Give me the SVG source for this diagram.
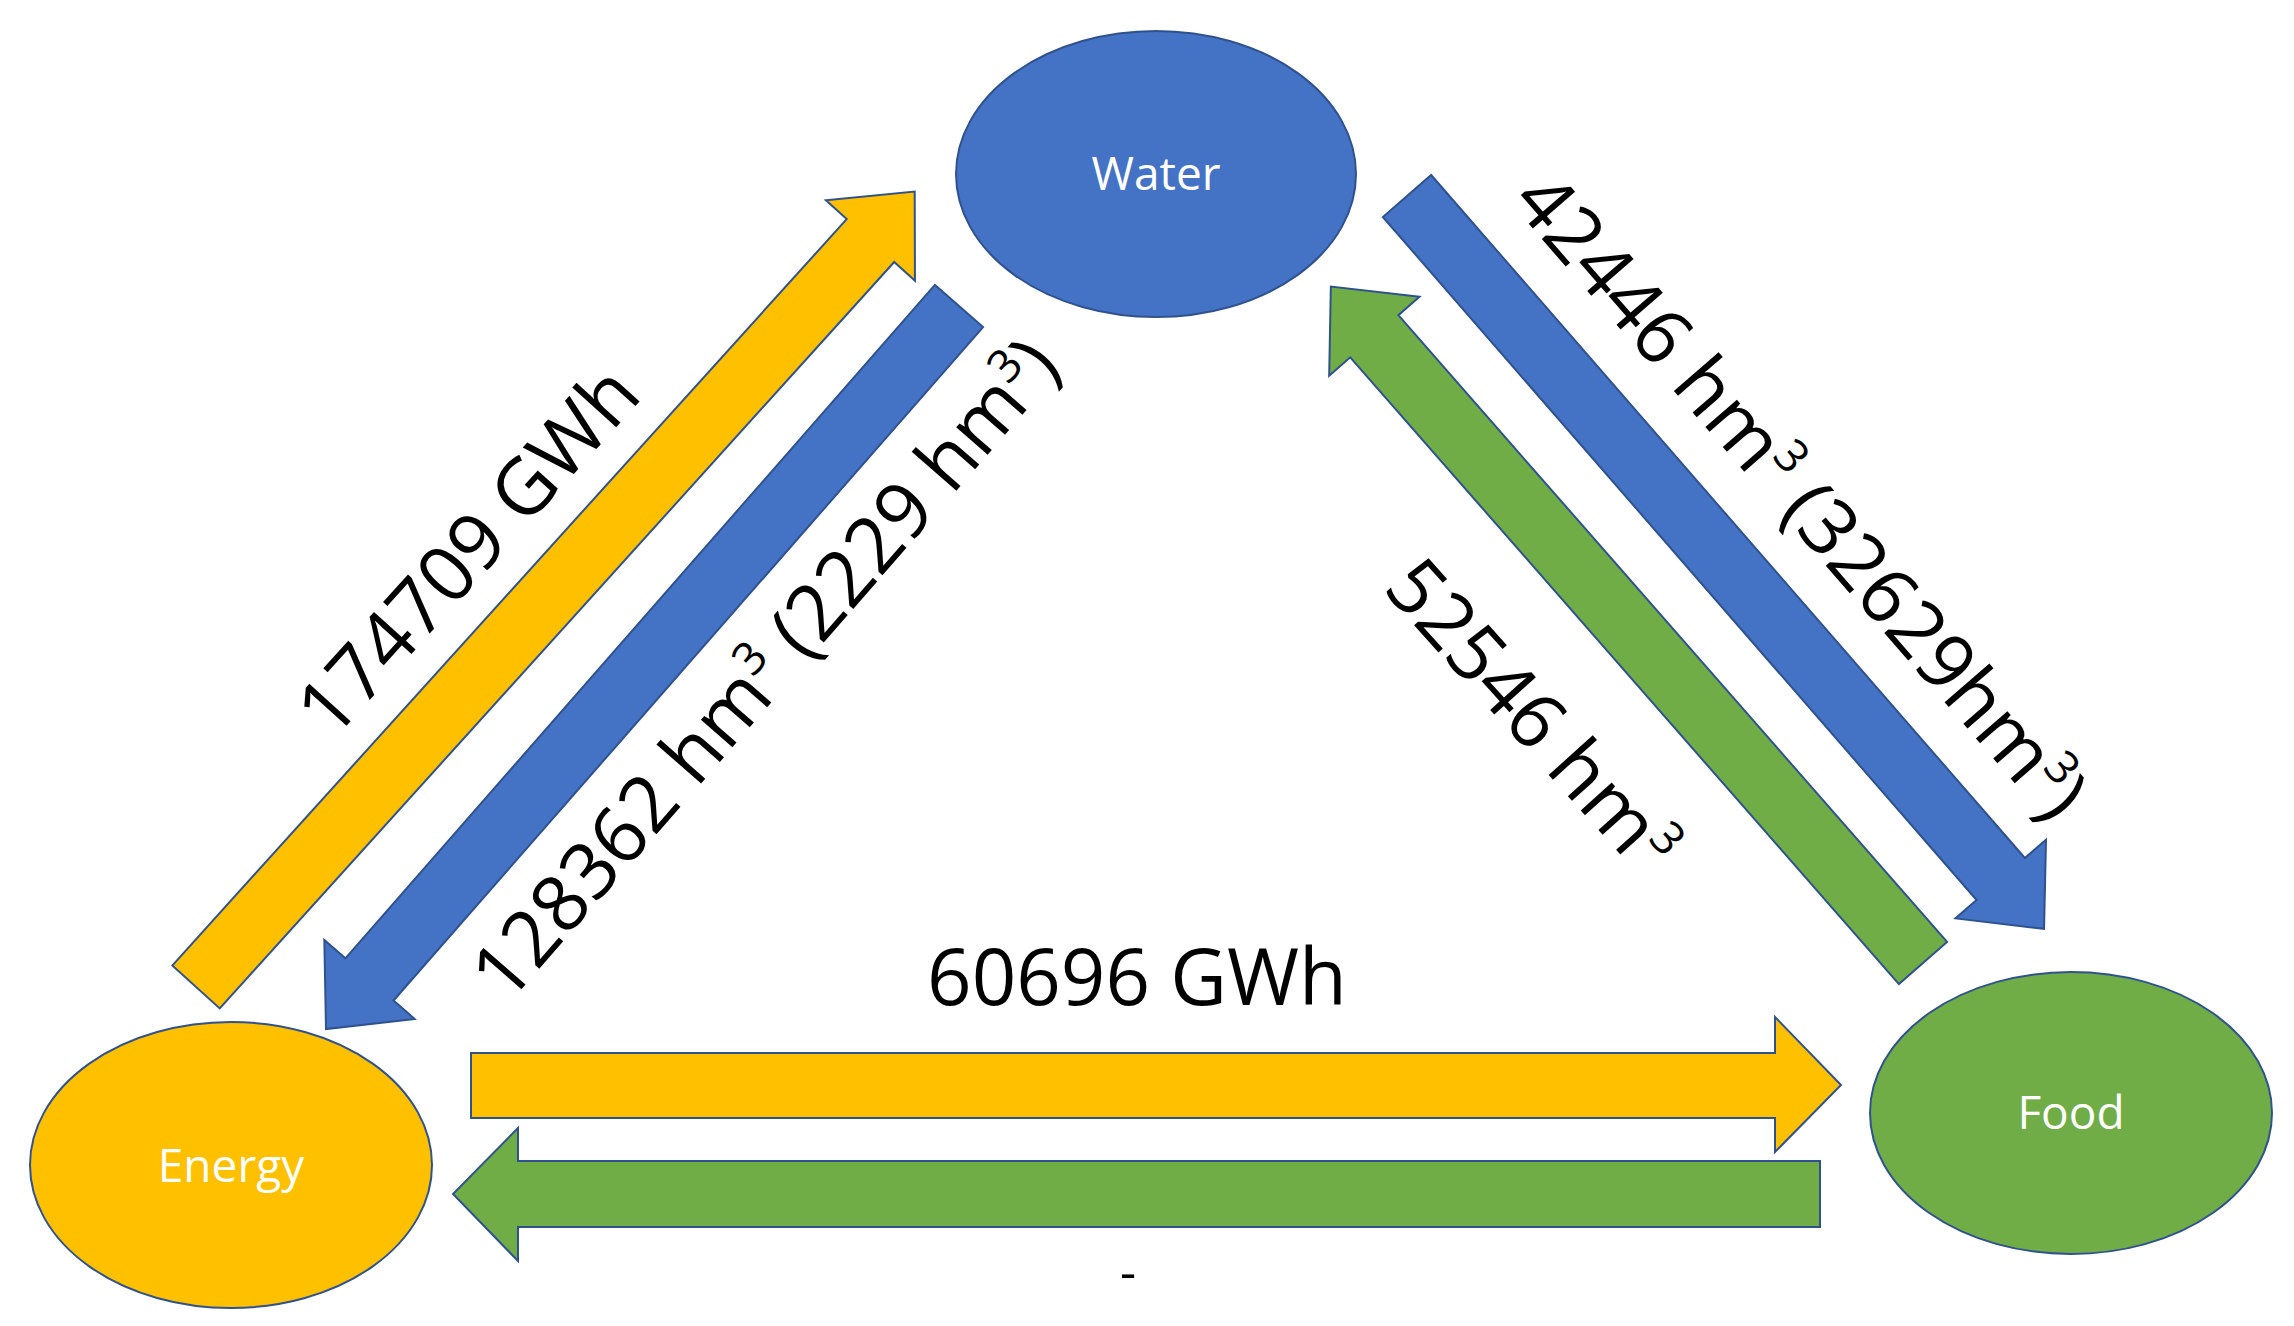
<svg xmlns="http://www.w3.org/2000/svg" width="2294" height="1326" viewBox="0 0 2294 1326">
<style>
.y{fill:#FFC000;stroke:#2F528F;stroke-width:2}
.b{fill:#4472C4;stroke:#2F528F;stroke-width:2}
.g{fill:#70AD47;stroke:#2F528F;stroke-width:2}
.nl{font-family:"Open Sans","Liberation Sans",sans-serif;font-size:46px;fill:#fff;text-anchor:middle}
.lb{font-family:"Open Sans","Liberation Sans",sans-serif;font-size:78px;fill:#000;text-anchor:middle}
.sup{font-size:46px}
</style>
<rect width="2294" height="1326" fill="#fff"/>
<g id="connectors">
<path class="y" transform="translate(196,987) rotate(-47.9)" d="M0,-32 L1006,-32 L1006,-60 L1072,0 L1006,60 L1006,32 L0,32 Z"/>
<path class="b" transform="translate(959,306) rotate(131.2)" d="M0,-32 L895,-32 L895,-60 L961,0 L895,60 L895,32 L0,32 Z"/>
<path class="b" transform="translate(1407,196) rotate(49)" d="M0,-32 L905,-32 L905,-60 L971,0 L905,60 L905,32 L0,32 Z"/>
<path class="g" transform="translate(1923,963) rotate(228.8)" d="M0,-32 L833,-32 L833,-60 L899,0 L833,60 L833,32 L0,32 Z"/>
<path class="y" d="M471,1053 L1775,1053 L1775,1017 L1841,1085 L1775,1152 L1775,1118 L471,1118 Z"/>
<path class="g" d="M1820,1161 L518,1161 L518,1128 L453,1194 L518,1261 L518,1227 L1820,1227 Z"/>
</g>
<g id="water"><ellipse class="b" cx="1156" cy="174" rx="200" ry="143"/><text class="nl" x="1156" y="190">Water</text></g>
<g id="energy"><ellipse class="y" cx="231" cy="1165" rx="201" ry="143"/><text class="nl" x="231" y="1182">Energy</text></g>
<g id="food"><ellipse class="g" cx="2071" cy="1113" rx="201" ry="141"/><text class="nl" x="2071" y="1129">Food</text></g>
<g id="labels">
<text class="lb" transform="translate(468,551) rotate(-47.9)" y="27">174709 GWh</text>
<text class="lb" transform="translate(765,669) rotate(-48.9)" y="27">128362 hm<tspan class="sup" dy="-30">3</tspan><tspan dy="30"> (2229 hm</tspan><tspan class="sup" dy="-30">3</tspan><tspan dy="30">)</tspan></text>
<text class="lb" transform="translate(1801,496) rotate(49)" y="27">42446 hm<tspan class="sup" dy="-30">3</tspan><tspan dy="30"> (32629hm</tspan><tspan class="sup" dy="-30">3</tspan><tspan dy="30">)</tspan></text>
<text class="lb" transform="translate(1532,716) rotate(48)" y="27">52546 hm<tspan class="sup" dy="-30">3</tspan></text>
<text class="lb" x="1137" y="1005">60696 GWh</text>
<text class="lb" x="1128" y="1290" style="font-size:50px">-</text>
</g>
</svg>
